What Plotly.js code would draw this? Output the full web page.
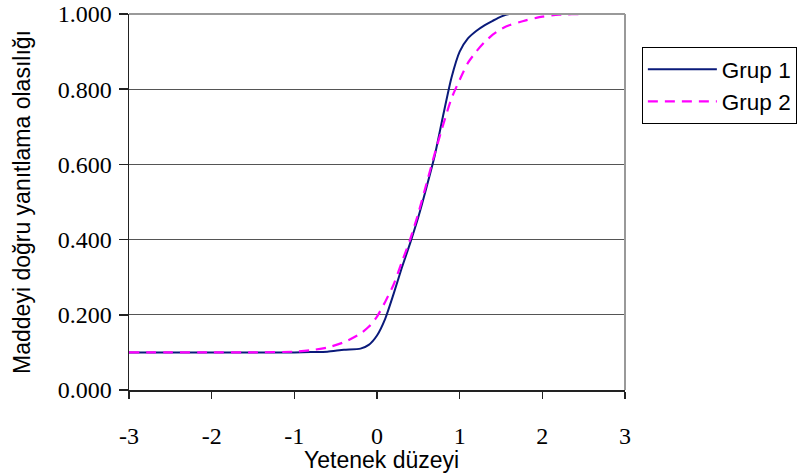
<!DOCTYPE html>
<html>
<head>
<meta charset="utf-8">
<script src="https://cdn.plot.ly/plotly-3.0.1.min.js"></script>
<style>html,body{margin:0;padding:0;background:#fff;}#chart{width:797px;height:475px;}</style>
</head>
<body>
<div id="chart"></div>
<script>
// Ability levels (x) and probabilities
const grup1X = [-3, -2.5, -2, -1.5, -1, -0.8, -0.6, -0.4, -0.2, -0.1, 0, 0.1, 0.2, 0.3, 0.4, 0.5, 0.6, 0.7, 0.8, 0.9, 1.0, 1.1, 1.2, 1.3, 1.4, 1.5, 1.6, 2, 2.5, 3];
const grup1Y = [0.100, 0.100, 0.100, 0.100, 0.100, 0.101, 0.102, 0.107, 0.110, 0.120, 0.145, 0.190, 0.255, 0.325, 0.390, 0.460, 0.540, 0.625, 0.730, 0.830, 0.900, 0.935, 0.955, 0.970, 0.982, 0.993, 1.000, 1.000, 1.000, 1.000];

const grup2X = [-3, -2.5, -2, -1.5, -1, -0.8, -0.6, -0.4, -0.2, -0.1, 0, 0.1, 0.2, 0.3, 0.4, 0.5, 0.6, 0.7, 0.8, 0.9, 1.0, 1.1, 1.2, 1.3, 1.4, 1.5, 1.6, 1.8, 2.0, 2.2, 2.5, 3];
const grup2Y = [0.100, 0.100, 0.100, 0.100, 0.102, 0.106, 0.113, 0.127, 0.150, 0.168, 0.195, 0.235, 0.280, 0.340, 0.400, 0.470, 0.550, 0.630, 0.705, 0.775, 0.825, 0.870, 0.900, 0.925, 0.945, 0.960, 0.970, 0.983, 0.993, 0.998, 1.000, 1.000];

const xTicks = [-3, -2, -1, 0, 1, 2, 3];
const yTicks = [0, 0.2, 0.4, 0.6, 0.8, 1.0];
const yTickLabels = ['0.000', '0.200', '0.400', '0.600', '0.800', '1.000'];
const xTitle = 'Yetenek düzeyi';
const yTitle = 'Maddeyi doğru yanıtlama olasılığı';

const SERIF = "Liberation Serif, Times New Roman, serif";
const SANS = "Liberation Sans, Arial, sans-serif";

const traces = [
  {x: grup1X, y: grup1Y, type: 'scatter', mode: 'lines', name: 'Grup 1',
   line: {color: '#0a1a7a', width: 2, shape: 'spline', smoothing: 0.6}},
  {x: grup2X, y: grup2Y, type: 'scatter', mode: 'lines', name: 'Grup 2',
   line: {color: '#ff00ff', width: 2.2, dash: '10px,7px', shape: 'spline', smoothing: 0.6}}
];

const layout = {
  width: 797, height: 475,
  font: {family: SERIF, size: 24, color: '#000'},
  margin: {l: 129, r: 172, t: 14, b: 85, autoexpand: false},
  paper_bgcolor: '#fff', plot_bgcolor: '#fff',
  showlegend: true,
  legend: {x: 1.034, y: 0.912, xanchor: 'left', yanchor: 'top',
    bordercolor: '#000', borderwidth: 1, bgcolor: '#fff',
    font: {family: SANS, size: 22.5, color: '#000'},
    itemwidth: 69, tracegroupgap: 0},
  xaxis: {range: [-3, 3], tickvals: xTicks, ticktext: xTicks.map(String),
    showgrid: false, zeroline: false, showline: true, linecolor: '#222', linewidth: 1.5,
    ticks: 'outside', ticklen: 7, tickcolor: '#222', tickwidth: 1.5,
    ticklabelstandoff: 17, automargin: false,
    tickfont: {family: SERIF, size: 24, color: '#000'}},
  yaxis: {range: [0, 1], tickvals: yTicks, ticktext: yTickLabels,
    showgrid: true, gridcolor: '#555', gridwidth: 1.2, zeroline: false,
    showline: true, linecolor: '#222', linewidth: 1.5,
    ticks: 'outside', ticklen: 9, tickcolor: '#222', tickwidth: 1.5, automargin: false,
    ticklabelstandoff: 2,
    tickfont: {family: SERIF, size: 24, color: '#000'},
    title: {text: yTitle, standoff: 20,
      font: {family: SANS, size: 23, color: '#000'}}},
  annotations: [
    {text: xTitle, xref: 'paper', yref: 'paper', x: 0.51, y: -0.187,
     xanchor: 'center', yanchor: 'middle', showarrow: false,
     font: {family: SANS, size: 23, color: '#000'}}
  ],
  shapes: [
    {type: 'line', xref: 'paper', yref: 'paper', x0: 1, x1: 1, y0: 0, y1: 1,
     line: {color: '#999', width: 2}},
    {type: 'line', xref: 'paper', yref: 'paper', x0: 0, x1: 1, y0: 1, y1: 1,
     line: {color: '#999', width: 2}}
  ]
};

Plotly.newPlot('chart', traces, layout, {displayModeBar: false, staticPlot: true});
</script>
</body>
</html>
